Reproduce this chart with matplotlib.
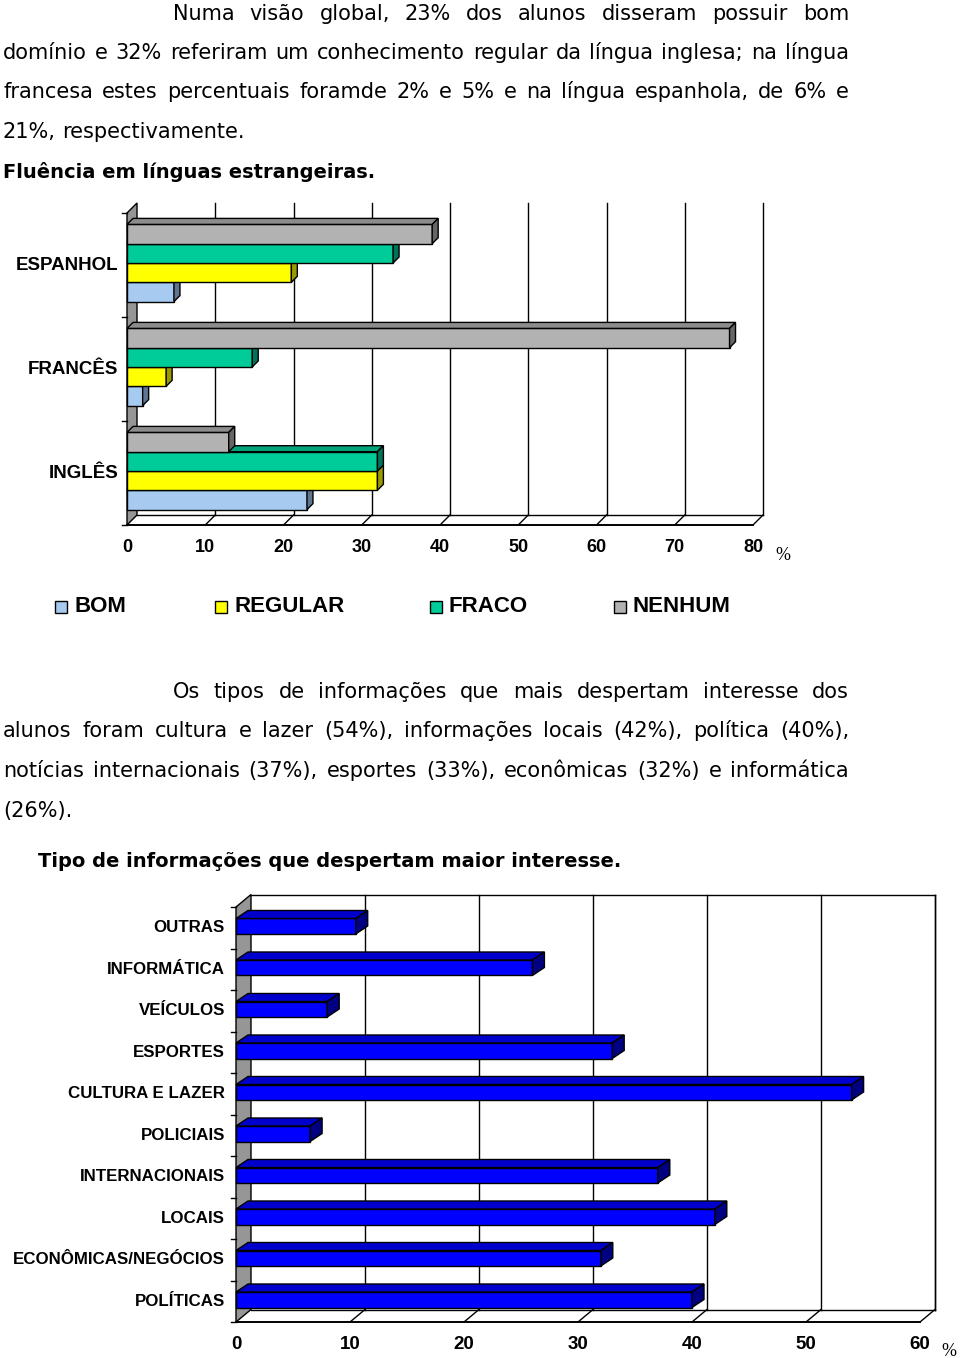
import matplotlib
matplotlib.use("Agg")
import matplotlib.pyplot as plt
from matplotlib.patches import Polygon, Rectangle

W, H = 960, 1358

# ---- data ----
langs = ['INGLÊS', 'FRANCÊS', 'ESPANHOL']
levels = ['BOM', 'REGULAR', 'FRACO', 'NENHUM']
bom = [23, 2, 6]
regular = [32, 5, 21]
fraco = [32, 16, 34]
nenhum = [13, 77, 39]
x1_ticks = [0, 10, 20, 30, 40, 50, 60, 70, 80]

info_cats = ['POLÍTICAS', 'ECONÔMICAS/NEGÓCIOS', 'LOCAIS', 'INTERNACIONAIS', 'POLICIAIS',
             'CULTURA E LAZER', 'ESPORTES', 'VEÍCULOS', 'INFORMÁTICA', 'OUTRAS']
info_vals = [40, 32, 42, 37, 6.5, 54, 33, 8, 26, 10.5]
x2_ticks = [0, 10, 20, 30, 40, 50, 60]

para1 = [
    "Numa visão global, 23% dos alunos disseram possuir bom",
    "domínio e 32% referiram um conhecimento regular da língua inglesa; na língua",
    "francesa estes percentuais foramde 2% e 5% e na língua espanhola, de 6% e",
    "21%, respectivamente.",
]
title1 = "Fluência em línguas estrangeiras."
para2 = [
    "Os tipos de informações que mais despertam interesse dos",
    "alunos foram cultura e lazer (54%), informações locais (42%), política (40%),",
    "notícias internacionais (37%), esportes (33%), econômicas (32%) e informática",
    "(26%).",
]
title2 = "Tipo de informações que despertam maior interesse."

body_font = ['DejaVu Sans']
chart_font = ['Liberation Sans', 'DejaVu Sans']

fig = plt.figure(figsize=(W / 100, H / 100), dpi=100)
renderer = fig.canvas.get_renderer()


def fx(x):
    return x / W


def fy(y):
    return 1 - y / H


def text_line(words, x0, x1, base, justify, **kw):
    # place words one by one so the line fills x0..x1 like the page
    items = []
    for w in words:
        t = fig.text(fx(x0), fy(base), w, va='baseline', ha='left', **kw)
        items.append(t)
    widths = [t.get_window_extent(renderer).width for t in items]
    sp = fig.text(0, 0, 'a a', **kw)
    sp2 = fig.text(0, 0, 'aa', **kw)
    space = sp.get_window_extent(renderer).width - sp2.get_window_extent(renderer).width
    sp.remove()
    sp2.remove()
    if justify and len(words) > 1:
        gap = (x1 - x0 - sum(widths)) / (len(words) - 1)
    else:
        gap = space
    x = x0
    for t, w in zip(items, widths):
        t.set_x(fx(x))
        x += w + gap


def paragraph(lines, first_x, bases):
    for i, (ln, b) in enumerate(zip(lines, bases)):
        x0 = first_x if i == 0 else 3
        text_line(ln.split(' '), x0, 849, b, i < len(lines) - 1,
                  family=body_font, fontsize=15, color='black')


paragraph(para1, 173, [19.5, 59, 98.5, 138])
fig.text(fx(3), fy(178.5), title1, family=body_font, fontsize=14, weight='bold', va='baseline')
paragraph(para2, 173, [698, 737.5, 777, 816.5])
fig.text(fx(38), fy(867), title2, family=body_font, fontsize=14, weight='bold', va='baseline')


def bar3d(ax, x0, x1, y0, y1, dx, dy, front, top, side, z):
    ax.add_patch(Rectangle((x0, y0), x1 - x0, y1 - y0, fc=front, ec='black', lw=1.0,
                           zorder=z, clip_on=False))
    ax.add_patch(Polygon([(x0, y1), (x0 + dx, y1 + dy), (x1 + dx, y1 + dy), (x1, y1)],
                         closed=True, fc=top, ec='black', lw=1.0, zorder=z, clip_on=False))
    ax.add_patch(Polygon([(x1, y0), (x1 + dx, y0 + dy), (x1 + dx, y1 + dy), (x1, y1)],
                         closed=True, fc=side, ec='black', lw=1.0, zorder=z, clip_on=False))


def frame3d(ax, xmax, ncat, ticks, wdx, wdy, box, tick_size):
    # left wall
    ax.add_patch(Polygon([(0, 0), (wdx, wdy), (wdx, ncat + wdy), (0, ncat)], closed=True,
                         fc='#969696', ec='black', lw=1.0, zorder=1, clip_on=False))
    for v in ticks[1:]:
        ax.plot([v + wdx, v + wdx], [wdy, ncat + wdy], color='black', lw=1.0, zorder=1, clip_on=False)
        ax.plot([v, v + wdx], [0, wdy], color='black', lw=1.0, zorder=1, clip_on=False)
    ax.plot([wdx, xmax + wdx], [wdy, wdy], color='black', lw=1.0, zorder=1, clip_on=False)
    ax.plot([0, xmax], [0, 0], color='black', lw=1.4, zorder=1, clip_on=False)
    if box:
        ax.plot([wdx, xmax + wdx], [ncat + wdy, ncat + wdy], color='black', lw=1.0, zorder=1, clip_on=False)
    for i in range(ncat + 1):
        ax.plot([-5 * px_x, 0], [i, i], color='black', lw=1.0, zorder=1, clip_on=False)
    ax.set_xlim(0, xmax)
    ax.set_ylim(0, ncat)
    ax.set_xticks(ticks)
    ax.set_yticks([])
    ax.tick_params(axis='x', length=0, pad=10)
    for lab in ax.get_xticklabels():
        lab.set_family(chart_font)
        lab.set_fontweight('bold')
        lab.set_fontsize(tick_size)
    for s in ax.spines.values():
        s.set_visible(False)
    ax.patch.set_visible(False)


# ---- chart 1 ----
ax1 = fig.add_axes([fx(127), fy(525), (753 - 127) / W, (525 - 213) / H])
px_x = 80 / (753 - 127)
px_y = 3 / (525 - 213)
frame3d(ax1, 80, 3, x1_ticks, 10 * px_x, 10 * px_y, False, 13)

series = [bom, regular, fraco, nenhum]
fronts = ['#a6caf0', '#ffff00', '#00cc99', '#b2b2b2']
tops = ['#8aa8c8', '#cccc00', '#00a37a', '#8c8c8c']
sides = ['#5f7590', '#999900', '#00735a', '#666666']
bh = 19.3 * px_y
for i in range(len(langs)):
    base = i + 0.5 - 2 * bh + 2 * px_y
    for k, vals in enumerate(series):
        bar3d(ax1, 0, vals[i], base + k * bh, base + (k + 1) * bh, 6 * px_x, 6 * px_y,
              fronts[k], tops[k], sides[k], 3)
for i, name in enumerate(langs):
    ax1.text(-9 * px_x, i + 0.5, name, ha='right', va='center', family=chart_font,
             weight='bold', fontsize=13.5)
fig.text(fx(775), fy(560), '%', family='Liberation Serif', fontsize=13, va='baseline')

# legend
leg_x = [55, 215, 430, 614]
for name, col, lx in zip(levels, fronts, leg_x):
    fig.patches.append(Rectangle((fx(lx), fy(613)), 12 / W, 12 / H, fc=col, ec='black', lw=1.0,
                                 transform=fig.transFigure, figure=fig))
    fig.text(fx(lx + 19), fy(606), name, family=chart_font, weight='bold', fontsize=16,
             va='center', ha='left')

# ---- chart 2 ----
ax2 = fig.add_axes([fx(236), fy(1322), (920 - 236) / W, (1322 - 907) / H])
px_x = 60 / (920 - 236)
px_y = 10 / (1322 - 907)
frame3d(ax2, 60, 10, x2_ticks, 15 * px_x, 12.5 * px_y, True, 13.5)
ax2.plot([60 + 15 * px_x] * 2, [12.5 * px_y, 10 + 12.5 * px_y], color='black', lw=1.0, zorder=1,
         clip_on=False)
bh2 = 15.5 * px_y
for i, v in enumerate(info_vals):
    c = i + 0.5 + 1.5 * px_y
    bar3d(ax2, 0, v, c - bh2 / 2, c + bh2 / 2, 12 * px_x, 8 * px_y,
          '#0000ff', '#0000cc', '#000080', 3)
for i, name in enumerate(info_cats):
    ax2.text(-11 * px_x, i + 0.5, name, ha='right', va='center', family=chart_font,
             weight='bold', fontsize=12.2, color='black')
fig.text(fx(941), fy(1356), '%', family='Liberation Serif', fontsize=13, va='baseline')

fig.savefig('out.png', dpi=100)
